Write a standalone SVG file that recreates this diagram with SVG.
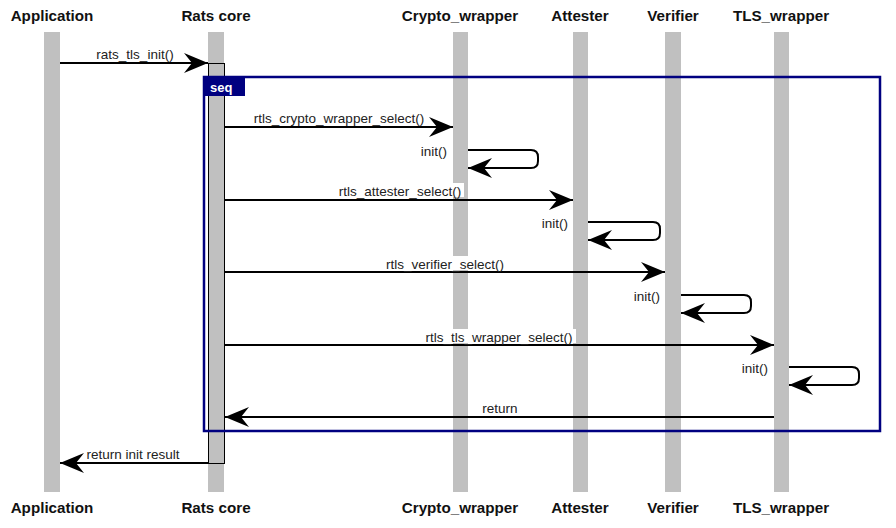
<svg xmlns="http://www.w3.org/2000/svg" width="896" height="528" viewBox="0 0 896 528">
<style>
.hdr{font-family:"Liberation Sans",Arial,sans-serif;font-weight:bold;font-size:15.2px;fill:#111;text-anchor:middle}
.life{fill:#c0c0c0}
.msg{stroke:#000;stroke-width:2;fill:none}
.lbl{font-family:"Liberation Sans",Arial,sans-serif;font-size:13.5px;fill:#222}
.mid{text-anchor:middle}
.end{text-anchor:end}
.bg{fill:#fff}
</style>
<defs>
<marker id="ah" markerWidth="26" markerHeight="20" refX="24" refY="10" orient="auto" markerUnits="userSpaceOnUse">
<path d="M24,10 L0,0 L8,10 L0,20 Z" fill="#000"/>
</marker>
</defs>
<rect width="896" height="528" fill="#fff"/>
<g id="Application">
<text class="hdr" x="52" y="21">Application</text>
<rect class="life" x="44" y="32" width="16" height="460"/>
<text class="hdr" x="52" y="513">Application</text>
</g>
<g id="RatsCore">
<text class="hdr" x="216" y="21">Rats core</text>
<rect class="life" x="208" y="32" width="16" height="460"/>
<text class="hdr" x="216" y="513">Rats core</text>
</g>
<g id="Crypto_wrapper">
<text class="hdr" x="460" y="21">Crypto_wrapper</text>
<rect class="life" x="453" y="32" width="15" height="460"/>
<text class="hdr" x="460" y="513">Crypto_wrapper</text>
</g>
<g id="Attester">
<text class="hdr" x="580" y="21">Attester</text>
<rect class="life" x="573" y="32" width="15" height="460"/>
<text class="hdr" x="580" y="513">Attester</text>
</g>
<g id="Verifier">
<text class="hdr" x="673" y="21">Verifier</text>
<rect class="life" x="665" y="32" width="16" height="460"/>
<text class="hdr" x="673" y="513">Verifier</text>
</g>
<g id="TLS_wrapper">
<text class="hdr" x="781" y="21">TLS_wrapper</text>
<rect class="life" x="774" y="32" width="15" height="460"/>
<text class="hdr" x="781" y="513">TLS_wrapper</text>
</g>
<g id="activation">
<rect x="208.5" y="63.5" width="16" height="400" fill="#c0c0c0" stroke="#000" stroke-width="1"/>
</g>
<g id="seq">
<rect x="204" y="77" width="676" height="354" fill="none" stroke="#000080" stroke-width="2.5"/>
<rect x="204" y="77" width="41" height="19" fill="#000080"/>
<text x="210" y="91.5" font-family="Liberation Sans,Arial,sans-serif" font-weight="bold" font-size="13" fill="#fff">seq</text>
</g>
<g id="connectors">
<line class="msg" x1="60" y1="63" x2="208" y2="63" marker-end="url(#ah)"/>
<text class="lbl mid" x="135" y="59">rats_tls_init()</text>

<line class="msg" x1="225" y1="127" x2="453" y2="127" marker-end="url(#ah)"/>
<text class="lbl mid" x="339" y="123">rtls_crypto_wrapper_select()</text>

<path class="msg" d="M468,150 H531 Q538,150 538,157 V161 Q538,168 531,168 H468" marker-end="url(#ah)"/>
<text class="lbl end" x="447" y="156">init()</text>

<line class="msg" x1="225" y1="200" x2="573" y2="200" marker-end="url(#ah)"/>
<rect class="bg" x="336" y="183" width="128" height="14"/>
<text class="lbl mid" x="400" y="196">rtls_attester_select()</text>

<path class="msg" d="M588,222 H653 Q660,222 660,229 V233 Q660,240 653,240 H588" marker-end="url(#ah)"/>
<text class="lbl end" x="568" y="228">init()</text>

<line class="msg" x1="225" y1="272" x2="665" y2="272" marker-end="url(#ah)"/>
<rect class="bg" x="384" y="256" width="122" height="14"/>
<text class="lbl mid" x="445" y="269">rtls_verifier_select()</text>

<path class="msg" d="M681,295 H744 Q751,295 751,302 V306 Q751,313 744,313 H681" marker-end="url(#ah)"/>
<text class="lbl end" x="660" y="301">init()</text>

<line class="msg" x1="225" y1="345" x2="774" y2="345" marker-end="url(#ah)"/>
<rect class="bg" x="423" y="329" width="153" height="14"/>
<text class="lbl mid" x="499" y="342">rtls_tls_wrapper_select()</text>

<path class="msg" d="M789,367 H852 Q859,367 859,374 V378 Q859,385 852,385 H789" marker-end="url(#ah)"/>
<text class="lbl end" x="768" y="373">init()</text>

<line class="msg" x1="774" y1="417" x2="225" y2="417" marker-end="url(#ah)"/>
<text class="lbl mid" x="500" y="413">return</text>

<line class="msg" x1="208" y1="463" x2="60" y2="463" marker-end="url(#ah)"/>
<text class="lbl mid" x="133" y="459">return init result</text>
</g>
</svg>
